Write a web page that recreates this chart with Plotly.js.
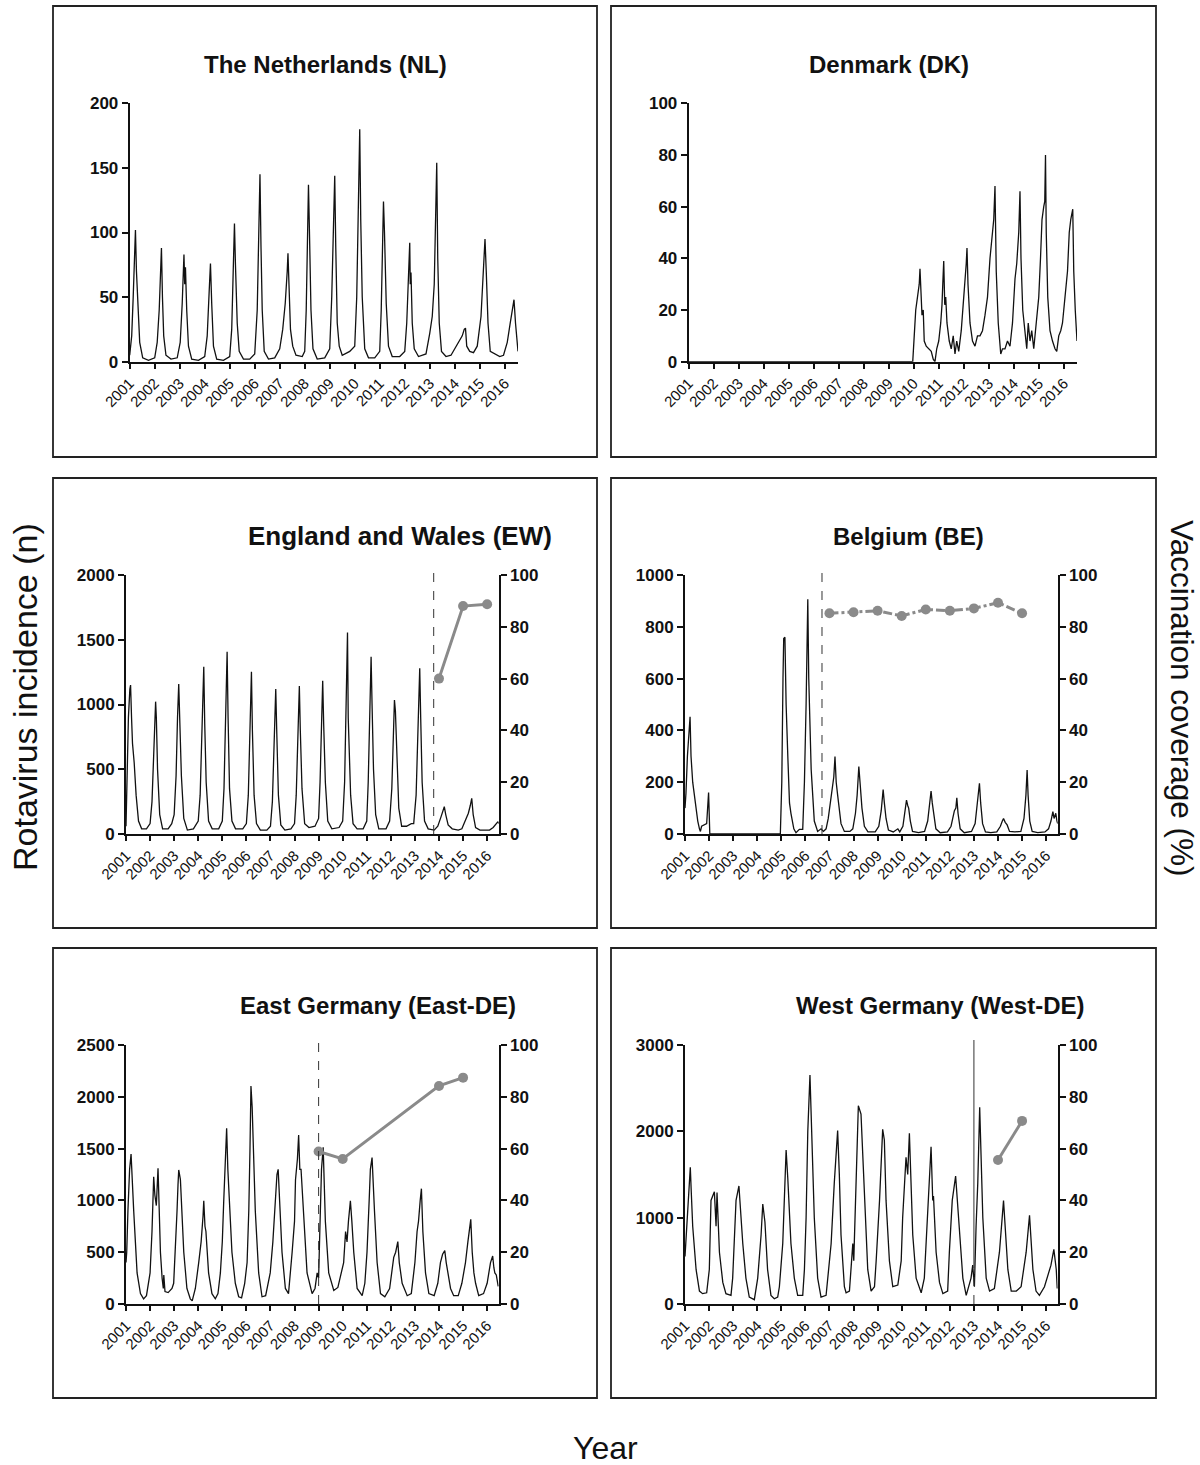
<!DOCTYPE html>
<html>
<head>
<meta charset="utf-8">
<script src="https://cdn.plot.ly/plotly-3.0.1.min.js"></script>
<style>
  html, body { margin: 0; padding: 0; background: #fff; }
  #chart { width: 1200px; height: 1465px; }
</style>
</head>
<body>
<div id="chart"></div>
<script>
// ---------------- DATA ----------------
const yearTicks  = [2001,2002,2003,2004,2005,2006,2007,2008,2009,2010,2011,2012,2013,2014,2015,2016];
const yearLabels = ['2001','2002','2003','2004','2005','2006','2007','2008','2009','2010','2011','2012','2013','2014','2015','2016'];

const panelTitles = ['The Netherlands (NL)','Denmark (DK)','England and Wales (EW)','Belgium (BE)','East Germany (East-DE)','West Germany (West-DE)'];

// The Netherlands
const nlTime = [2001.00,2001.08,2001.14,2001.20,2001.23,2001.27,2001.33,2001.40,2001.52,2001.75,
 2002.00,2002.10,2002.18,2002.23,2002.27,2002.31,2002.36,2002.45,2002.65,2002.90,
 2003.02,2003.10,2003.17,2003.20,2003.23,2003.28,2003.35,2003.48,2003.75,
 2004.00,2004.10,2004.18,2004.23,2004.28,2004.35,2004.48,2004.75,
 2005.00,2005.08,2005.14,2005.19,2005.23,2005.30,2005.38,2005.55,2005.80,
 2006.00,2006.10,2006.16,2006.21,2006.25,2006.30,2006.38,2006.55,2006.80,
 2007.00,2007.12,2007.22,2007.30,2007.33,2007.37,2007.43,2007.52,2007.65,2007.90,
 2008.00,2008.06,2008.11,2008.15,2008.19,2008.25,2008.33,2008.50,2008.80,
 2009.00,2009.08,2009.15,2009.20,2009.24,2009.30,2009.38,2009.50,2009.80,
 2010.00,2010.08,2010.15,2010.20,2010.24,2010.30,2010.40,2010.55,2010.80,
 2011.00,2011.06,2011.11,2011.15,2011.19,2011.26,2011.35,2011.50,2011.80,
 2012.00,2012.08,2012.15,2012.20,2012.22,2012.25,2012.30,2012.38,2012.55,2012.85,
 2013.00,2013.10,2013.18,2013.24,2013.28,2013.32,2013.38,2013.47,2013.65,2013.85,
 2014.00,2014.15,2014.30,2014.38,2014.43,2014.48,2014.60,2014.75,2014.90,
 2015.05,2015.14,2015.21,2015.26,2015.33,2015.42,2015.60,2015.80,2015.95,
 2016.10,2016.22,2016.30,2016.37,2016.43,2016.50,2016.53];
const nlCases = [5,20,50,85,102,70,40,15,3,1,
 3,15,40,65,88,50,20,5,2,3,
 15,45,83,60,73,40,12,2,1,
 4,20,55,76,45,12,2,1,
 4,25,70,107,75,30,8,2,2,
 6,40,100,145,90,40,8,2,3,
 10,25,45,70,84,60,25,12,5,4,
 8,40,100,137,100,40,10,2,3,
 10,50,110,144,90,30,12,5,8,
 12,50,120,180,110,50,10,3,3,
 8,40,90,124,100,45,12,4,4,
 8,30,70,92,60,69,30,10,4,6,
 22,35,60,110,154,80,30,8,4,5,
 10,15,20,25,26,12,8,7,12,
 35,75,95,70,30,8,6,4,5,
 15,30,42,48,30,15,8];

// Denmark
const dkTime = [2001.00,2009.96,2010.02,2010.08,2010.15,2010.22,2010.25,2010.29,2010.33,2010.38,2010.42,2010.50,2010.60,2010.70,2010.78,2010.85,2010.92,
 2011.00,2011.08,2011.13,2011.17,2011.20,2011.24,2011.28,2011.33,2011.42,2011.50,2011.58,2011.65,2011.72,2011.80,2011.90,
 2012.00,2012.06,2012.10,2012.13,2012.17,2012.25,2012.35,2012.45,2012.55,2012.65,2012.75,2012.85,2012.95,
 2013.05,2013.12,2013.20,2013.25,2013.30,2013.38,2013.48,2013.55,2013.65,2013.75,2013.85,2013.95,
 2014.05,2014.12,2014.20,2014.25,2014.29,2014.36,2014.45,2014.52,2014.58,2014.65,2014.72,2014.80,2014.90,
 2015.00,2015.07,2015.13,2015.20,2015.24,2015.27,2015.30,2015.36,2015.45,2015.55,2015.65,2015.72,2015.80,2015.88,2015.95,
 2016.05,2016.15,2016.22,2016.28,2016.36,2016.40,2016.46,2016.53];
const dkCases = [0,0,10,20,25,30,36,25,18,20,8,6,5,4,1,0,5,
 8,15,22,32,39,22,25,15,8,5,10,3,8,4,12,
 25,32,38,44,30,15,8,6,10,10,12,18,25,
 40,48,55,68,35,15,3,5,5,8,6,15,
 32,38,50,66,40,20,12,5,15,8,12,5,15,
 25,40,55,60,62,80,50,25,12,8,5,4,10,12,15,
 25,35,50,55,59,35,20,8];

// England and Wales
const ewTime = [2001.00,2001.04,2001.10,2001.16,2001.19,2001.23,2001.27,2001.34,2001.42,2001.52,2001.65,2001.85,
 2002.00,2002.08,2002.15,2002.20,2002.23,2002.26,2002.31,2002.40,2002.52,2002.75,2002.90,
 2003.00,2003.08,2003.14,2003.19,2003.23,2003.30,2003.40,2003.55,2003.80,
 2004.00,2004.08,2004.15,2004.20,2004.23,2004.27,2004.33,2004.43,2004.58,2004.85,
 2005.00,2005.07,2005.13,2005.18,2005.20,2005.24,2005.30,2005.40,2005.55,2005.85,
 2006.00,2006.08,2006.15,2006.19,2006.21,2006.25,2006.32,2006.42,2006.58,2006.85,
 2007.00,2007.08,2007.15,2007.20,2007.22,2007.26,2007.33,2007.43,2007.60,2007.85,
 2008.00,2008.07,2008.13,2008.18,2008.20,2008.24,2008.31,2008.42,2008.60,2008.85,
 2009.00,2009.06,2009.12,2009.17,2009.21,2009.28,2009.38,2009.55,2009.85,
 2010.00,2010.08,2010.14,2010.18,2010.20,2010.23,2010.26,2010.33,2010.43,2010.60,2010.85,
 2011.00,2011.06,2011.12,2011.16,2011.18,2011.22,2011.28,2011.37,2011.50,2011.80,2011.95,
 2012.04,2012.10,2012.15,2012.19,2012.25,2012.33,2012.45,2012.65,2012.85,2012.95,
 2013.05,2013.12,2013.17,2013.20,2013.24,2013.30,2013.40,2013.55,2013.80,2013.95,
 2014.08,2014.16,2014.22,2014.28,2014.38,2014.55,2014.80,2014.95,
 2015.10,2015.22,2015.30,2015.36,2015.42,2015.52,2015.70,2015.90,
 2016.10,2016.25,2016.38,2016.45,2016.48];
const ewCases = [60,400,900,1120,1150,900,700,550,300,100,40,40,
 80,250,600,900,1022,900,500,150,40,40,80,
 150,450,900,1158,900,450,120,30,40,
 100,300,700,1100,1292,850,400,100,40,40,
 100,350,800,1250,1408,900,350,100,40,40,
 80,300,750,1100,1253,800,300,80,30,30,
 60,250,650,1000,1120,800,300,70,30,40,
 80,300,750,1050,1143,800,350,80,50,60,
 120,400,900,1184,850,400,100,40,50,
 100,400,900,1300,1555,900,650,300,80,40,40,
 100,400,950,1250,1369,1000,500,150,40,40,100,
 350,800,1035,950,600,200,60,60,80,80,
 300,700,1000,1279,900,400,100,40,30,60,
 130,180,211,150,70,40,30,40,
 100,160,220,275,150,50,30,30,
 30,50,80,95,80];
const ewCovYear = [2014, 2015, 2016];
const ewCoverage = [60, 88, 88.7];
const ewIntro = 2013.78;

// Belgium
const beTime = [2001.00,2001.04,2001.10,2001.15,2001.21,2001.25,2001.32,2001.39,2001.46,2001.53,2001.60,2001.64,2001.69,2001.78,2001.90,2001.98,2002.03,
 2004.96,2005.02,2005.07,2005.10,2005.15,2005.20,2005.27,2005.34,2005.40,2005.52,2005.61,2005.75,2005.89,
 2005.96,2006.03,2006.07,2006.10,2006.14,2006.17,2006.24,2006.37,2006.51,2006.65,2006.75,2006.86,2006.95,
 2007.05,2007.11,2007.18,2007.23,2007.28,2007.34,2007.42,2007.48,2007.62,2007.85,2007.97,
 2008.08,2008.15,2008.22,2008.27,2008.35,2008.45,2008.60,2008.90,
 2009.05,2009.15,2009.23,2009.28,2009.35,2009.45,2009.65,2009.84,2009.92,
 2010.05,2010.14,2010.20,2010.25,2010.29,2010.36,2010.45,2010.70,2010.95,
 2011.08,2011.17,2011.22,2011.27,2011.32,2011.42,2011.60,2011.90,
 2012.05,2012.14,2012.19,2012.25,2012.29,2012.34,2012.43,2012.60,2012.90,
 2013.05,2013.15,2013.23,2013.28,2013.36,2013.48,2013.70,2013.95,
 2014.10,2014.18,2014.23,2014.30,2014.38,2014.48,2014.70,2014.95,
 2015.08,2015.16,2015.21,2015.25,2015.32,2015.42,2015.65,2015.95,
 2016.10,2016.20,2016.24,2016.28,2016.33,2016.40,2016.45,2016.48];
const beCases = [100,157,300,380,453,300,200,150,90,50,20,10,30,35,40,160,0,
 0,200,600,755,760,500,300,120,80,20,5,18,18,
 200,500,700,906,600,500,250,50,10,20,10,20,60,
 130,180,220,299,200,150,80,40,10,10,20,
 80,150,260,200,100,30,8,8,
 30,90,172,120,60,15,8,20,8,
 30,100,131,110,100,50,10,5,10,
 50,120,166,120,80,20,5,8,
 30,70,90,100,140,80,20,5,10,
 40,120,196,120,40,8,5,8,
 30,50,60,45,35,10,8,10,
 60,150,247,150,50,10,5,8,
 20,50,70,86,60,80,50,40];
const beCovYear = [2007,2008,2009,2010,2011,2012,2013,2014,2015];
const beCoverage = [85.2,85.6,86.2,84.2,86.7,86.2,87.1,89.3,85.2];
const beIntro = 2006.69;

// East Germany
const edeTime = [2001.00,2001.03,2001.08,2001.15,2001.21,2001.25,2001.32,2001.39,2001.46,2001.60,2001.73,2001.85,2001.94,
 2002.00,2002.08,2002.12,2002.15,2002.20,2002.26,2002.33,2002.38,2002.43,2002.50,2002.55,2002.57,2002.62,2002.75,2002.91,2002.98,
 2003.05,2003.12,2003.16,2003.19,2003.26,2003.33,2003.40,2003.53,2003.67,2003.75,2003.88,
 2004.02,2004.12,2004.20,2004.23,2004.28,2004.32,2004.43,2004.57,2004.71,2004.82,2004.92,
 2005.00,2005.06,2005.12,2005.18,2005.23,2005.27,2005.33,2005.40,2005.54,2005.68,2005.80,2005.93,
 2006.03,2006.10,2006.15,2006.19,2006.24,2006.30,2006.37,2006.51,2006.65,2006.80,2006.99,
 2007.10,2007.20,2007.27,2007.32,2007.38,2007.48,2007.62,2007.75,2007.90,
 2008.00,2008.04,2008.12,2008.17,2008.22,2008.27,2008.38,2008.52,2008.73,2008.85,2008.94,
 2009.00,2009.05,2009.12,2009.19,2009.23,2009.28,2009.42,2009.63,2009.80,2009.95,
 2010.04,2010.12,2010.18,2010.24,2010.32,2010.38,2010.46,2010.60,2010.81,2010.92,
 2011.01,2011.10,2011.15,2011.22,2011.27,2011.32,2011.43,2011.57,2011.75,2011.95,
 2012.12,2012.20,2012.29,2012.35,2012.47,2012.68,2012.85,
 2013.00,2013.09,2013.15,2013.22,2013.27,2013.33,2013.44,2013.58,2013.80,2013.95,
 2014.06,2014.15,2014.24,2014.30,2014.38,2014.48,2014.61,2014.80,2014.95,
 2015.10,2015.20,2015.32,2015.38,2015.45,2015.52,2015.65,2015.85,
 2016.00,2016.14,2016.23,2016.28,2016.32,2016.38,2016.46];
const edeCases = [400,500,900,1300,1448,1200,900,600,300,100,50,80,200,
 300,700,1000,1229,1050,950,1310,800,500,250,150,280,120,110,150,200,
 500,900,1150,1294,1200,800,500,150,50,30,150,
 400,600,850,997,750,700,300,100,50,100,300,
 600,1000,1300,1696,1300,1100,700,500,200,70,60,200,
 400,900,1500,2104,1900,1300,900,300,70,80,300,
 600,1000,1250,1300,1000,500,150,100,500,
 800,1200,1400,1631,1300,1300,800,300,100,150,300,
 250,700,1300,1512,1100,800,300,130,160,300,
 400,700,600,800,997,800,500,150,80,200,
 500,1000,1300,1413,1100,900,400,100,70,150,
 450,500,602,400,200,80,100,
 400,700,800,1000,1113,700,300,100,80,200,
 400,480,515,400,300,150,80,80,200,
 400,600,817,500,300,200,80,100,
 200,400,463,350,300,280,170];
const edeCovYear = [2009, 2010, 2014, 2015];
const edeCoverage = [58.9, 56, 84.2, 87.4];
const edeIntro = 2009.0;

// West Germany
const wdeTime = [2001.00,2001.08,2001.15,2001.22,2001.26,2001.32,2001.46,2001.60,2001.73,2001.90,
 2002.01,2002.08,2002.15,2002.22,2002.29,2002.33,2002.43,2002.57,2002.70,2002.91,
 2002.98,2003.12,2003.24,2003.40,2003.53,2003.67,2003.88,
 2004.02,2004.16,2004.23,2004.32,2004.43,2004.57,2004.71,2004.85,
 2004.92,2005.06,2005.13,2005.20,2005.27,2005.40,2005.54,2005.68,2005.89,
 2005.96,2006.03,2006.10,2006.19,2006.24,2006.37,2006.51,2006.65,2006.86,
 2006.93,2007.07,2007.20,2007.27,2007.34,2007.41,2007.48,2007.62,2007.69,2007.83,
 2007.97,2008.01,2008.11,2008.20,2008.31,2008.45,2008.59,2008.73,2008.87,
 2008.94,2009.08,2009.21,2009.28,2009.35,2009.49,2009.63,2009.84,
 2009.98,2010.04,2010.18,2010.25,2010.32,2010.39,2010.46,2010.60,2010.81,
 2010.94,2011.08,2011.22,2011.29,2011.32,2011.43,2011.57,2011.71,2011.91,
 2011.98,2012.10,2012.24,2012.40,2012.54,2012.68,
 2012.88,2012.95,2013.02,2013.09,2013.16,2013.24,2013.30,2013.37,2013.51,2013.65,2013.85,
 2014.06,2014.23,2014.41,2014.55,2014.76,
 2014.96,2015.17,2015.31,2015.45,2015.58,2015.72,
 2015.93,2016.05,2016.20,2016.32,2016.42,2016.46];
const wdeCases = [550,900,1300,1583,1300,900,400,150,120,130,
 400,1200,1250,1300,900,1290,600,250,120,100,
 300,1200,1367,700,300,80,50,
 300,800,1158,950,400,100,60,80,
 200,700,1300,1784,1450,700,300,100,100,
 400,1000,2000,2652,2200,1000,300,80,100,
 300,700,1400,1700,2008,1500,800,200,130,150,
 700,500,1500,2297,2200,1200,400,150,200,
 500,1200,2023,1900,1200,500,200,220,
 500,1000,1700,1500,1977,1400,800,300,130,
 300,1000,1822,1200,1250,600,250,120,150,
 600,1200,1483,800,300,100,
 300,450,200,900,1400,2278,1500,1000,300,150,180,
 600,1197,400,150,150,
 200,600,1027,400,150,100,
 200,300,450,633,400,180];
const wdeCovYear = [2014, 2015];
const wdeCoverage = [55.6, 70.7];
const wdeIntro = 2013.0;

// ---------------- LAYOUT HELPERS ----------------
const W = 1200, H = 1465;
const px = x => x / W;
const py = y => 1 - y / H;
const FONT = 'Liberation Sans, Arial, Helvetica, sans-serif';
const INK = '#111';
const GREY = '#8a8a8a';

// plot-area geometry in pixels (left, right, bottom(0), top) and x range
const geom = [
  {l:129.7, r:518,   b:361.7, t:103.3, xr:[2001, 2016.53], yr:[0,200],  dt:50},
  {l:688.7, r:1077,  b:361.7, t:103.3, xr:[2001, 2016.53], yr:[0,100],  dt:20},
  {l:126,   r:498.7, b:834,   t:575,   xr:[2001, 2016.48], yr:[0,2000], dt:500},
  {l:685,   r:1057.7,b:834,   t:575,   xr:[2001, 2016.48], yr:[0,1000], dt:200},
  {l:126,   r:498.7, b:1304,  t:1045,  xr:[2001, 2016.48], yr:[0,2500], dt:500},
  {l:685,   r:1057.7,b:1304,  t:1045,  xr:[2001, 2016.48], yr:[0,3000], dt:1000}
];

const layout = {
  width: W, height: H,
  margin: {l:0, r:0, t:0, b:0},
  paper_bgcolor: '#fff', plot_bgcolor: 'rgba(0,0,0,0)',
  showlegend: false,
  font: {family: FONT, color: INK},
  shapes: [], annotations: []
};

function xAxisDef(g, yName) {
  return {
    domain: [px(g.l), px(g.r)], range: g.xr, anchor: yName,
    showline: true, linecolor: INK, linewidth: 2,
    ticks: 'outside', ticklen: 5, tickwidth: 2, tickcolor: INK,
    tickmode: 'array', tickvals: yearTicks, ticktext: yearLabels,
    tickangle: -45, tickfont: {family: FONT, size: 15, color: INK},
    showgrid: false, zeroline: false, fixedrange: true
  };
}
function yAxisDef(g, xName, range, dtick, side, overlay) {
  const a = {
    domain: [py(g.b), py(g.t)], range: range, anchor: xName,
    showline: true, linecolor: INK, linewidth: 2,
    ticks: 'outside', ticklen: 6, tickwidth: 2, tickcolor: INK,
    tick0: 0, dtick: dtick,
    tickfont: {family: FONT, size: 17, color: INK, weight: 'bold'},
    showgrid: false, zeroline: false, fixedrange: true, side: side
  };
  if (overlay) a.overlaying = overlay;
  return a;
}

// axis names
const xNames = ['x','x2','x3','x4','x5','x6'];
const yNames = ['y','y2','y3','y5','y7','y9'];
const y2Names = [null, null, 'y4','y6','y8','y10'];

geom.forEach((g, i) => {
  const xk = 'xaxis' + (i === 0 ? '' : (i + 1));
  layout[xk] = xAxisDef(g, yNames[i]);
  const yk = 'yaxis' + (yNames[i] === 'y' ? '' : yNames[i].slice(1));
  layout[yk] = yAxisDef(g, xNames[i], g.yr, g.dt, 'left', null);
  if (y2Names[i]) {
    const yk2 = 'yaxis' + y2Names[i].slice(1);
    layout[yk2] = yAxisDef(g, xNames[i], [0, 100], 20, 'right', yNames[i]);
  }
});

// panel frames
const frames = [
  [53, 6, 597, 457], [611, 6, 1156, 457],
  [53, 478, 597, 928], [611, 478, 1156, 928],
  [53, 948, 597, 1398], [611, 948, 1156, 1398]
];
frames.forEach(f => layout.shapes.push({
  type: 'rect', xref: 'paper', yref: 'paper',
  x0: px(f[0]), x1: px(f[2]), y0: py(f[3]), y1: py(f[1]),
  line: {color: '#222', width: 1.8}, fillcolor: 'rgba(0,0,0,0)', layer: 'below'
}));

// panel titles
const titlePos = [[325, 64], [889, 64], [400, 536], [908, 536], [378, 1006], [940, 1006]];
const titleSize = [24, 24, 26, 24, 24, 24];
panelTitles.forEach((t, i) => layout.annotations.push({
  text: '<b>' + t + '</b>', xref: 'paper', yref: 'paper',
  x: px(titlePos[i][0]), y: py(titlePos[i][1]), xanchor: 'center', yanchor: 'middle',
  showarrow: false, font: {family: FONT, size: titleSize[i], color: INK}
}));

// common axis titles
layout.annotations.push({
  text: 'Rotavirus incidence (n)', xref: 'paper', yref: 'paper',
  x: px(25), y: py(697), xanchor: 'center', yanchor: 'middle', textangle: -90,
  showarrow: false, font: {family: FONT, size: 34, color: INK}
});
layout.annotations.push({
  text: 'Vaccination coverage (%)', xref: 'paper', yref: 'paper',
  x: px(1182), y: py(698), xanchor: 'center', yanchor: 'middle', textangle: 90,
  showarrow: false, font: {family: FONT, size: 31.5, color: INK}
});
layout.annotations.push({
  text: 'Year', xref: 'paper', yref: 'paper',
  x: px(605), y: py(1448), xanchor: 'center', yanchor: 'middle',
  showarrow: false, font: {family: FONT, size: 32, color: INK}
});

// vaccine introduction lines: x from the panel's axis scale
function yearToPaper(i, t) {
  const g = geom[i];
  return px(g.l + (t - g.xr[0]) / (g.xr[1] - g.xr[0]) * (g.r - g.l));
}
function vline(i, t, yTop, yBot, dash) {
  layout.shapes.push({
    type: 'line', xref: 'paper', yref: 'paper',
    x0: yearToPaper(i, t), x1: yearToPaper(i, t), y0: py(yBot), y1: py(yTop),
    line: {color: '#333', width: 1, dash: dash}, layer: 'above'
  });
}
vline(2, ewIntro, 565, 834, 'dash');
vline(3, beIntro, 565, 834, 'dash');
vline(4, edeIntro, 1035, 1304, 'dash');
vline(5, wdeIntro, 1040, 1262, 'solid');
vline(5, wdeIntro, 1262, 1304, 'dash');

// ---------------- TRACES ----------------
function incidence(x, y, i) {
  return {type: 'scatter', mode: 'lines', x: x, y: y, xaxis: xNames[i], yaxis: yNames[i],
          line: {color: INK, width: 1.3}, hoverinfo: 'skip'};
}
function coverage(x, y, i, dash) {
  return {type: 'scatter', mode: 'lines+markers', x: x, y: y, xaxis: xNames[i], yaxis: y2Names[i],
          line: {color: GREY, width: 3, dash: dash}, marker: {color: GREY, size: 10},
          cliponaxis: false, hoverinfo: 'skip'};
}

const data = [
  incidence(nlTime, nlCases, 0),
  incidence(dkTime, dkCases, 1),
  incidence(ewTime, ewCases, 2),
  coverage(ewCovYear, ewCoverage, 2, 'solid'),
  incidence(beTime, beCases, 3),
  coverage(beCovYear, beCoverage, 3, 'dashdot'),
  incidence(edeTime, edeCases, 4),
  coverage(edeCovYear, edeCoverage, 4, 'solid'),
  incidence(wdeTime, wdeCases, 5),
  coverage(wdeCovYear, wdeCoverage, 5, 'solid')
];

Plotly.newPlot('chart', data, layout, {staticPlot: true, displayModeBar: false});
</script>
</body>
</html>
